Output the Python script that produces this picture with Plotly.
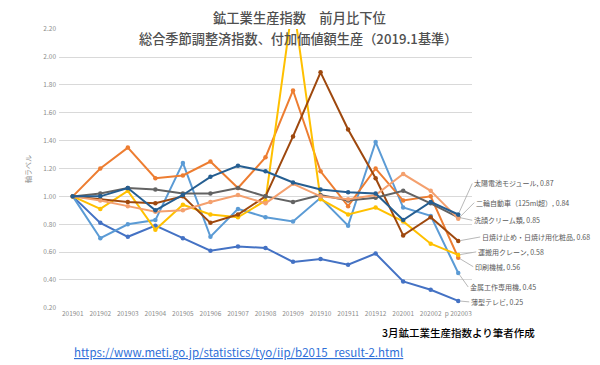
import plotly.graph_objects as go

months = ['201901', '201902', '201903', '201904', '201905', '201906', '201907', '201908',
          '201909', '201910', '201911', '201912', '202001', '202002', 'p 202003']

solar = [1.00, 1.00, 1.06, 0.90, 1.01, 1.14, 1.22, 1.18, 1.10, 1.05, 1.03, 1.02, 0.83, 0.96, 0.87]
motorcycle = [1.00, 0.97, 0.93, 0.89, 0.90, 0.96, 1.01, 0.95, 1.09, 1.00, 0.98, 1.01, 1.16, 1.04, 0.84]
face_cream = [1.00, 1.02, 1.06, 1.05, 1.02, 1.02, 1.06, 1.00, 0.96, 1.01, 0.97, 0.99, 1.04, 0.95, 0.85]
sunscreen = [1.00, 0.98, 0.96, 0.95, 1.00, 0.81, 0.87, 1.00, 1.43, 1.89, 1.48, 1.13, 0.72, 0.85, 0.68]
crane = [1.00, 0.91, 1.04, 0.76, 0.94, 0.87, 0.85, 0.97, 2.40, 0.98, 0.87, 0.92, 0.82, 0.66, 0.58]
printing = [1.00, 1.20, 1.35, 1.13, 1.15, 1.25, 1.06, 1.28, 1.76, 1.18, 0.93, 1.20, 0.97, 1.00, 0.56]
metal_machine = [1.00, 0.70, 0.80, 0.83, 1.24, 0.71, 0.91, 0.85, 0.82, 0.99, 0.79, 1.39, 0.92, 0.86, 0.45]
thin_tv = [1.00, 0.81, 0.71, 0.79, 0.70, 0.61, 0.64, 0.63, 0.53, 0.55, 0.51, 0.59, 0.39, 0.33, 0.25]

series_names = ['太陽電池モジュール', '二輪自動車（125ml超）', '洗顔クリーム類', '日焼け止め・日焼け用化粧品',
                '運搬用クレーン', '印刷機械', '金属工作専用機', '薄型テレビ']
series_values = [solar, motorcycle, face_cream, sunscreen, crane, printing, metal_machine, thin_tv]
series_colors = ['#255E91', '#F4A06E', '#636363', '#9E480E', '#FFC000', '#ED7D31', '#5B9BD5', '#4472C4']
# label offsets (pixels) from the last point
label_ax = [14, 16, 14, 22, 18, 15, 10, 11]
label_ay = [-31, -16, 3, -4, -3, 9, 14, 1]

FONT = 'Noto Sans CJK JP'

fig = go.Figure()
draw_order = [7, 6, 5, 4, 3, 2, 1, 0]
for i in draw_order:
    fig.add_trace(go.Scatter(
        x=months, y=series_values[i], mode='lines+markers', name=series_names[i],
        line=dict(color=series_colors[i], width=2),
        marker=dict(color=series_colors[i], size=4.5, symbol='circle'),
        showlegend=False, cliponaxis=True))

annotations = []
for i in range(len(series_names)):
    v = series_values[i][-1]
    annotations.append(dict(
        x=months[-1], y=v, xref='x', yref='y',
        text=f'{series_names[i]}, {v:.2f}', showarrow=True, arrowhead=0,
        arrowwidth=0.8, arrowcolor='#A6A6A6', ax=label_ax[i], ay=label_ay[i],
        xanchor='left', yanchor='middle', standoff=2,
        font=dict(family=FONT, size=7, color='#595959')))

annotations += [
    dict(text='鉱工業生産指数　前月比下位', xref='paper', yref='paper', x=0.5835, y=1.0405,
         showarrow=False, xanchor='center', yanchor='middle',
         font=dict(family=FONT, size=13.3, color='#505050', weight=500)),
    dict(text='総合季節調整済指数、付加価値額生産（2019.1基準）', xref='paper', yref='paper',
         x=0.5787, y=0.9667, showarrow=False, xanchor='center', yanchor='middle',
         font=dict(family=FONT, size=13.2, color='#505050', weight=500)),
    dict(text='軸ラベル', xref='paper', yref='paper', x=-0.075, y=0.498, textangle=-90,
         showarrow=False, xanchor='center', yanchor='middle',
         font=dict(family=FONT, size=7, color='#8C8C8C')),
    dict(text='3月鉱工業生産指数より筆者作成', xref='paper', yref='paper', x=0.967, y=-0.0896,
         showarrow=False, xanchor='center', yanchor='middle',
         font=dict(family=FONT, size=10.5, color='#000000', weight=500)),
    dict(text='<u>https://www.meti.go.jp/statistics/tyo/iip/b2015_result-2.html</u>',
         xref='paper', yref='paper', x=0.0315, y=-0.158, showarrow=False,
         xanchor='left', yanchor='middle',
         font=dict(family=FONT, size=11.5, color='#2E6FD8')),
]

# The page body adds an 8px margin, so the figure is sized 8px smaller
fig.update_layout(
    width=592, height=357,
    margin=dict(l=51, r=128, t=21, b=57),
    paper_bgcolor='white', plot_bgcolor='white',
    font=dict(family=FONT),
    annotations=annotations,
    xaxis=dict(type='category', range=[-0.5, 14.5], showgrid=False, showline=False,
               ticks='', tickfont=dict(family=FONT, size=6.5, color='#8C8C8C'), zeroline=False),
    yaxis=dict(range=[0.199, 2.201], tick0=0.2, dtick=0.2, tickformat='.2f',
               showgrid=True, gridcolor='#D9D9D9', gridwidth=1, zeroline=False,
               showline=False, ticks='', ticklabelstandoff=2,
               tickfont=dict(family=FONT, size=6.5, color='#8C8C8C')),
)

fig.write_html('out.html')
